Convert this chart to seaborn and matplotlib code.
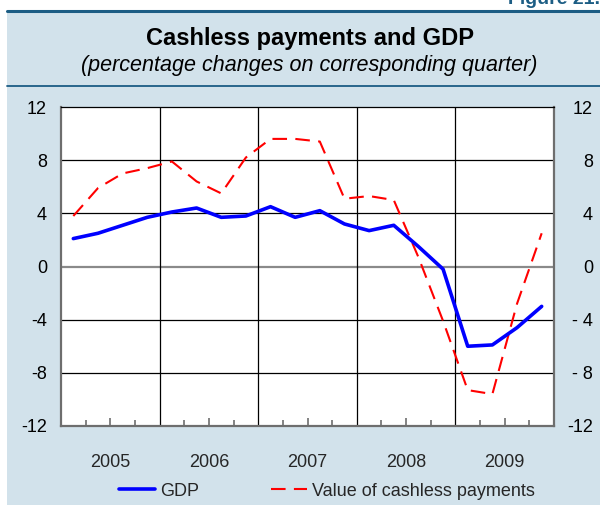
import matplotlib
matplotlib.use("Agg")
import matplotlib.pyplot as plt
from matplotlib.patches import Rectangle
from matplotlib.lines import Line2D
import seaborn as sns
import pandas as pd

sns.set_theme(style="white")
plt.rcParams["font.family"] = ["Liberation Sans", "DejaVu Sans"]

# Quarterly data, 2005 Q1 - 2009 Q4
years = [2005, 2006, 2007, 2008, 2009]
quarters = [1, 2, 3, 4]
gdp = [2.1, 2.5, 3.1, 3.7, 4.1, 4.4, 3.7, 3.8,
       4.5, 3.7, 4.2, 3.2, 2.7, 3.1, 1.5, -0.2,
       -6.0, -5.9, -4.6, -3.0]
cashless = [3.8, 5.9, 7.0, 7.4, 7.9, 6.4, 5.5, 8.2,
            9.6, 9.6, 9.4, 5.1, 5.3, 5.0, 0.7, -4.1,
            -9.3, -9.6, -2.8, 2.5]
y_ticks = [12, 8, 4, 0, -4, -8, -12]
left_labels = ["12", "8", "4", "0", "-4", "-8", "-12"]
right_labels = ["12", "8", "4", "0", "- 4", "- 8", "-12"]

# time position of each quarter = middle of the quarter
t = [y + (q - 0.5) / 4 for y in years for q in quarters]
df = pd.DataFrame({"t": t, "GDP": gdp, "Value of cashless payments": cashless})

BG = "#d2e2eb"
HEAD = "#1c5d84"

fig = plt.figure(figsize=(6.0, 5.05), dpi=100)
fig.patch.set_facecolor("white")
W, H = 600, 505

def fx(px):
    return px / W

def fy(py):
    return 1 - py / H

# panel background and header rules
fig.add_artist(Rectangle((fx(7), 0), 1 - fx(7), fy(11), transform=fig.transFigure,
                         facecolor=BG, edgecolor="none", zorder=0))
fig.add_artist(Line2D([fx(7), 1], [fy(11), fy(11)], transform=fig.transFigure,
                      color=HEAD, lw=2.2, zorder=1))
fig.add_artist(Line2D([fx(7), 1], [fy(86), fy(86)], transform=fig.transFigure,
                      color=HEAD, lw=1.3, zorder=1))
fig.text(1.0, fy(4), "Figure 21.", ha="right", va="baseline", fontsize=14,
         fontweight="bold", color=HEAD)

fig.text(fx(310), fy(38), "Cashless payments and GDP", ha="center", va="center",
         fontsize=17, fontweight="bold", color="black")
fig.text(fx(309), fy(65), "(percentage changes on corresponding quarter)",
         ha="center", va="center", fontsize=15.5, fontstyle="italic", color="black")

ax = fig.add_axes([fx(61), fy(426), fx(554) - fx(61), fy(107) - fy(426)])
ax.set_facecolor("white")

sns.lineplot(data=df, x="t", y="GDP", ax=ax, color="#0000ff", lw=2.6,
             label="GDP", legend=False, zorder=4)
sns.lineplot(data=df, x="t", y="Value of cashless payments", ax=ax, color="#ff0000",
             lw=1.5, label="Value of cashless payments",
             legend=False, zorder=3)
ax.lines[1].set_dashes((7, 4))

ax.set_xlim(2005, 2010)
ax.set_ylim(-12, 12)
ax.set_xlabel("")
ax.set_ylabel("")

# y axis
ax.set_yticks(y_ticks, labels=left_labels)
ax.tick_params(axis="y", length=0, pad=10, labelsize=13, colors="black")
for v in y_ticks[1:-1]:
    if v == 0:
        ax.axhline(v, color="#8a8a8a", lw=1.6, zorder=1)
    else:
        ax.axhline(v, color="black", lw=0.9, zorder=1)

# year boundaries
for yv in years[1:]:
    ax.axvline(yv, color="black", lw=0.9, zorder=1)

# x axis: year labels at mid-year, quarter ticks inward
ax.set_xticks([y + 0.5 for y in years], labels=[str(y) for y in years])
ax.set_xticks([y + q for y in years for q in (0.25, 0.75)], minor=True)
ax.tick_params(axis="x", which="major", direction="in", length=6, width=1.2,
               color="#6e6e6e", pad=20, labelsize=13, bottom=True)
ax.tick_params(axis="x", which="minor", direction="in", length=4, width=1.2,
               color="#6e6e6e", bottom=True)

for side in ["left", "bottom", "right"]:
    ax.spines[side].set_color("#6e6e6e")
    ax.spines[side].set_linewidth(1.6)
ax.spines["top"].set_color("black")
ax.spines["top"].set_linewidth(0.9)

# right axis labels
ax2 = ax.twinx()
ax2.set_ylim(-12, 12)
ax2.set_yticks(y_ticks, labels=right_labels)
ax2.tick_params(axis="y", length=0, pad=28, labelsize=13, colors="black")
for lab in ax2.get_yticklabels():
    lab.set_horizontalalignment("right")
for side in ax2.spines.values():
    side.set_visible(False)
ax2.grid(False)

handles = [Line2D([], [], color="#0000ff", lw=2.6),
           Line2D([], [], color="#ff0000", lw=1.5, dashes=(7, 4))]
fig.legend(handles, ["GDP", "Value of cashless payments"], loc="center",
           bbox_to_anchor=(fx(327), fy(491)), ncol=2, frameon=False,
           fontsize=13, handlelength=2.0, handletextpad=0.25,
           columnspacing=4.0)

fig.savefig("out.png", dpi=100, facecolor=fig.get_facecolor())
